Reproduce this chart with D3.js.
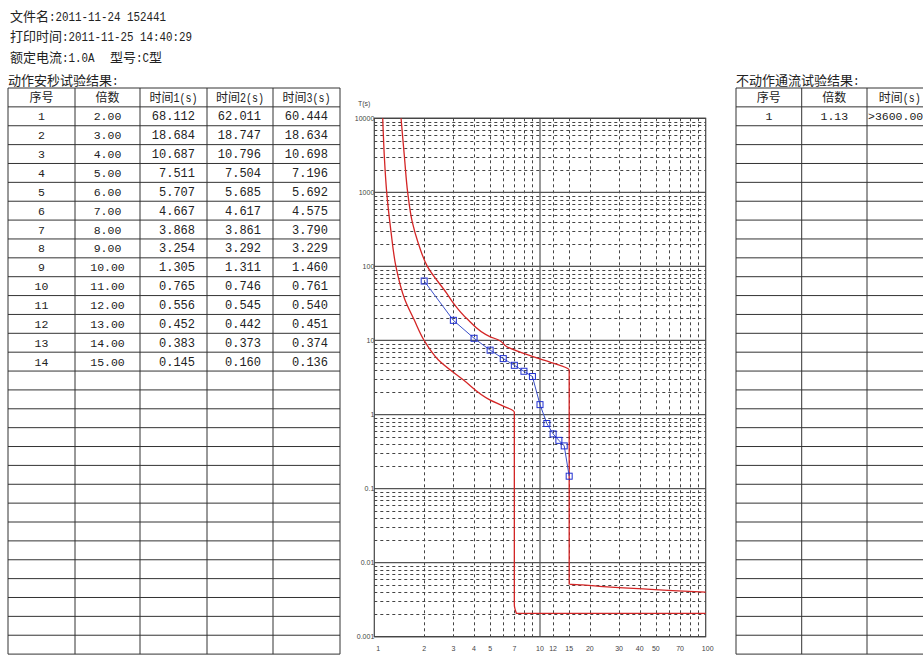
<!DOCTYPE html>
<html>
<head>
<meta charset="utf-8">
<script src="https://d3js.org/d3.v7.min.js"></script>
<style>
body { margin: 0; background: #fff; }
svg { display: block; }
.ax { font-family: "Liberation Sans", sans-serif; font-size: 7px; fill: #444; }
</style>
</head>
<body>
<script>

// ---DATA---//

// 动作安秒试验结果
var seqNo = [ "1", "2", "3", "4", "5", "6", "7", "8", "9", "10", "11", "12", "13", "14" ];
var multiples = [ "2.00", "3.00", "4.00", "5.00", "6.00", "7.00", "8.00", "9.00", "10.00", "11.00", "12.00", "13.00", "14.00", "15.00" ];
var time1 = [ "68.112", "18.684", "10.687", "7.511", "5.707", "4.667", "3.868", "3.254", "1.305", "0.765", "0.556", "0.452", "0.383", "0.145" ];
var time2 = [ "62.011", "18.747", "10.796", "7.504", "5.685", "4.617", "3.861", "3.292", "1.311", "0.746", "0.545", "0.442", "0.373", "0.160" ];
var time3 = [ "60.444", "18.634", "10.698", "7.196", "5.692", "4.575", "3.790", "3.229", "1.460", "0.761", "0.540", "0.451", "0.374", "0.136" ];

// 不动作通流试验结果
var holdSeqNo = [ "1" ];
var holdMultiples = [ "1.13" ];
var holdTime = [ ">3600.000" ];

// measured points on the chart (multiple of In, time in s)
var testMult = [ 2, 3, 4, 5, 6, 7, 8, 9, 10, 11, 12, 13, 14, 15 ];
var testTime = [ 63.5, 18.7, 10.7, 7.4, 5.69, 4.62, 3.84, 3.26, 1.36, 0.757, 0.547, 0.448, 0.377, 0.147 ];

// lower limit curve
var lowerMult = [ 1.124, 1.15, 1.188, 1.26, 1.35, 1.53, 1.74, 2.0, 2.43, 3.44, 4.98, 6.0, 7.0, 7.0, 7.2, 100 ];
var lowerTime = [ 10000, 3000, 1000, 300, 100, 35.5, 19, 10, 5.5, 2.95, 1.58, 1.3, 1.08, 0.0027, 0.00207, 0.00207 ];

// upper limit curve
var upperMult = [ 1.45, 1.52, 1.59, 1.70, 1.84, 2.09, 2.73, 3.0, 3.68, 4.98, 5.7, 6.27, 9.07, 12.0, 15.0, 15.0, 18, 24, 30, 42, 63, 100 ];
var upperTime = [ 10000, 3000, 1000, 386, 207, 100, 43.6, 32, 19, 11.3, 10, 8.3, 6.05, 4.95, 4.0, 0.0051, 0.0050, 0.00474, 0.00459, 0.00441, 0.00419, 0.0040 ];

// axis ticks
var xTickValues = [ 1, 2, 3, 4, 5, 7, 10, 12, 15, 20, 30, 40, 50, 70, 100 ];
var xGridMinor = [ 2, 3, 4, 5, 6, 7, 8, 9, 12, 15, 20, 30, 40, 50, 60, 70, 80, 90 ];
var yTickValues = [ 10000, 1000, 100, 10, 1, 0.1, 0.01, 0.001 ];
var yTickLabels = [ "10000", "1000", "100", "10", "1", "0.1", "0.01", "0.001" ];

// ---LAYOUT---//

var width = 923;
var height = 655;
var tableTop = 88;
var rowH = 18.87;
var nRows = 30;

var svg = d3.select("body").append("svg").attr("width", width).attr("height", height);

// text with CJK runs full width and latin runs squeezed to half width
function mixedText(g, x, y, str, cjkSize, latSize, anchor) {

	var t = g.append("text") //
	.attr("x", x).attr("y", y) //
	.attr("text-anchor", anchor || "start") //
	.attr("fill", "#222");

	var runs = str.match(/[\u3000-\u9fff\uff00-\uffef]+|[^\u3000-\u9fff\uff00-\uffef]+/g);
	runs.forEach(function(r) {
		var cjk = /[\u3000-\u9fff\uff00-\uffef]/.test(r);
		var span = t.append("tspan") //
		.attr("font-family", cjk ? "Noto Sans CJK SC" : "Liberation Mono") //
		.attr("font-size", cjk ? cjkSize : latSize) //
		.text(r);
		if (!cjk) {
			span.attr("textLength", r.length * cjkSize * 0.5) //
			.attr("lengthAdjust", "spacingAndGlyphs");
		}
	});

	return t;
}// END: mixedText

// ---HEADER---//

var header = svg.append("g").attr("class", "header");
mixedText(header, 10, 21, "文件名:2011-11-24 152441", 13, 12);
mixedText(header, 10, 41, "打印时间:2011-11-25 14:40:29", 13, 12);
mixedText(header, 10, 62, "额定电流:1.0A", 13, 12);
mixedText(header, 110, 62, "型号:C型", 13, 12);
mixedText(header, 8, 85, "动作安秒试验结果:", 13, 12);
mixedText(header, 736, 85, "不动作通流试验结果:", 13, 12);

// ---TABLES---//

function drawTable(colX, headers, columns, aligns, sizes) {

	var g = svg.append("g").attr("class", "table");
	var bottom = tableTop + nRows * rowH;

	g.selectAll("line.h").data(d3.range(nRows + 1)).enter().append("line") //
	.attr("x1", colX[0]).attr("x2", colX[colX.length - 1]) //
	.attr("y1", function(i) { return tableTop + i * rowH; }) //
	.attr("y2", function(i) { return tableTop + i * rowH; }) //
	.attr("stroke", "#333").attr("stroke-width", 1);

	g.selectAll("line.v").data(colX).enter().append("line") //
	.attr("x1", function(d) { return d; }).attr("x2", function(d) { return d; }) //
	.attr("y1", tableTop).attr("y2", bottom) //
	.attr("stroke", "#333").attr("stroke-width", 1);

	headers.forEach(function(h, c) {
		mixedText(g, (colX[c] + colX[c + 1]) / 2, tableTop + rowH / 2 + 4.5, h, 12, 12.5, "middle");
	});

	columns.forEach(function(col, c) {
		g.selectAll("text.c" + c).data(col).enter().append("text") //
		.attr("font-family", "Liberation Mono") //
		.attr("font-size", sizes[c]) //
		.attr("fill", "#222") //
		.attr("x", function() {
			if (aligns[c] == "middle") return (colX[c] + colX[c + 1]) / 2;
			if (aligns[c] == "end") return colX[c + 1] - 12;
			return colX[c] + 1;
		}) //
		.attr("y", function(d, i) { return tableTop + (i + 1.5) * rowH + 4; }) //
		.attr("text-anchor", aligns[c]) //
		.text(function(d) { return d; });
	});

}// END: drawTable

drawTable([ 8, 75, 140, 207, 273, 340 ], //
[ "序号", "倍数", "时间1(s)", "时间2(s)", "时间3(s)" ], //
[ seqNo, multiples, time1, time2, time3 ], //
[ "middle", "middle", "end", "end", "end" ], //
[ 11.5, 11.5, 12, 12, 12 ]);

drawTable([ 736, 801.7, 867, 932.5 ], //
[ "序号", "倍数", "时间(s)" ], //
[ holdSeqNo, holdMultiples, holdTime ], //
[ "middle", "middle", "start" ], //
[ 11.5, 11.5, 11.5 ]);

// ---CHART---//

var x = d3.scaleLog().domain([ 1, 100 ]).range([ 374.3, 705.7 ]);
var y = d3.scaleLog().domain([ 0.001, 10000 ]).range([ 636.7, 118.3 ]);

var chart = svg.append("g").attr("class", "chart");

var yMinor = y.ticks().filter(function(v) {
	var l = Math.log10(v);
	return Math.abs(l - Math.round(l)) > 1e-6;
});

// dashed minor grid
chart.selectAll("line.ym").data(yMinor).enter().append("line") //
.attr("x1", x(1)).attr("x2", x(100)) //
.attr("y1", function(d) { return Math.round(y(d)) + 0.5; }) //
.attr("y2", function(d) { return Math.round(y(d)) + 0.5; }) //
.attr("stroke", "#444").attr("stroke-width", 1).attr("stroke-dasharray", "3,3");

chart.selectAll("line.xm").data(xGridMinor).enter().append("line") //
.attr("x1", function(d) { return Math.round(x(d)) + 0.5; }) //
.attr("x2", function(d) { return Math.round(x(d)) + 0.5; }) //
.attr("y1", y(10000)).attr("y2", y(0.001)) //
.attr("stroke", "#444").attr("stroke-width", 1).attr("stroke-dasharray", "3,3");

// solid decade grid
chart.selectAll("line.yM").data(yTickValues).enter().append("line") //
.attr("x1", x(1)).attr("x2", x(100)) //
.attr("y1", function(d) { return y(d); }).attr("y2", function(d) { return y(d); }) //
.attr("stroke", "#555").attr("stroke-width", 1.2);

chart.append("line") //
.attr("x1", x(10)).attr("x2", x(10)) //
.attr("y1", y(10000)).attr("y2", y(0.001)) //
.attr("stroke", "#555").attr("stroke-width", 1.2);

chart.append("rect") //
.attr("x", x(1)).attr("y", y(10000)) //
.attr("width", x(100) - x(1)).attr("height", y(0.001) - y(10000)) //
.attr("fill", "none").attr("stroke", "#444").attr("stroke-width", 1.2);

// limit curves
var line = d3.line() //
.x(function(d) { return x(d[0]); }) //
.y(function(d) { return y(d[1]); });

var smooth = d3.line() //
.x(function(d) { return x(d[0]); }) //
.y(function(d) { return y(d[1]); }) //
.curve(d3.curveMonotoneY);

var lowerPts = d3.zip(lowerMult, lowerTime);
var lastLower = lowerPts[lowerPts.length - 1];

chart.append("path") //
.attr("d", smooth(lowerPts.slice(0, -1)) + "L" + x(lastLower[0]) + "," + y(lastLower[1])) //
.attr("fill", "none").attr("stroke", "#d42525").attr("stroke-width", 1.3);

chart.append("path") //
.attr("d", smooth(d3.zip(upperMult, upperTime))) //
.attr("fill", "none").attr("stroke", "#d42525").attr("stroke-width", 1.3);

// test points
var testPoints = d3.zip(testMult, testTime);

chart.append("path") //
.attr("d", line(testPoints)) //
.attr("fill", "none").attr("stroke", "#3a4fc8").attr("stroke-width", 1);

chart.selectAll("rect.pt").data(testPoints).enter().append("rect") //
.attr("x", function(d) { return x(d[0]) - 3; }) //
.attr("y", function(d) { return y(d[1]) - 3; }) //
.attr("width", 6).attr("height", 6) //
.attr("fill", "none").attr("stroke", "#1f2fd0").attr("stroke-width", 1);

// axis labels
chart.selectAll("text.yl").data(yTickValues).enter().append("text") //
.attr("class", "ax") //
.attr("x", x(1)) //
.attr("y", function(d) { return y(d) + 2.5; }) //
.attr("text-anchor", "end") //
.text(function(d, i) { return yTickLabels[i]; });

chart.selectAll("text.xl").data(xTickValues).enter().append("text") //
.attr("class", "ax") //
.attr("x", function(d) { return x(d) + (d == 1 ? 4 : 0) + (d == 100 ? 2 : 0); }) //
.attr("y", 651) //
.attr("text-anchor", "middle") //
.text(function(d) { return d; });

chart.append("text").attr("class", "ax") //
.attr("x", 358).attr("y", 106) //
.text("T(s)");

</script>
</body>
</html>
